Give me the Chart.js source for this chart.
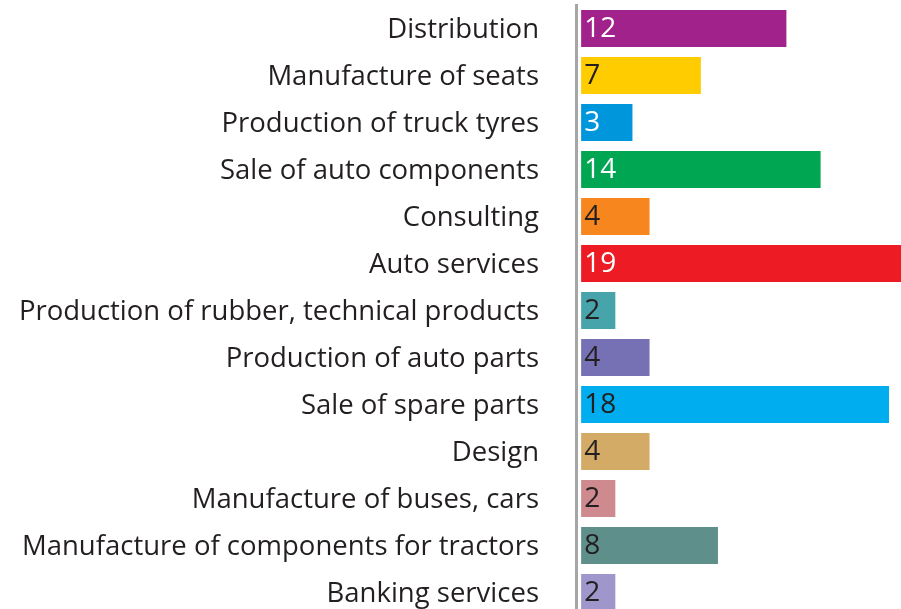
<!DOCTYPE html>
<html>
<head>
<meta charset="utf-8">
<script src="https://cdn.jsdelivr.net/npm/chart.js@4.4.1/dist/chart.umd.min.js"></script>
<style>
  html, body { margin: 0; padding: 0; background: #fff; overflow: hidden; }
  #wrap { position: relative; width: 901px; height: 616px; }
</style>
</head>
<body>
<div id="wrap"><canvas id="chart"></canvas></div>
<script>
const CATEGORIES = [
  'Distribution', 'Manufacture of seats', 'Production of truck tyres',
  'Sale of auto components', 'Consulting', 'Auto services',
  'Production of rubber, technical products', 'Production of auto parts',
  'Sale of spare parts', 'Design', 'Manufacture of buses, cars',
  'Manufacture of components for tractors', 'Banking services'
];
const VALUES = [12, 7, 3, 14, 4, 19, 2, 4, 18, 4, 2, 8, 2];
const BAR_COLORS = [
  '#a1228b', '#ffcc00', '#0096db', '#00a651', '#f7861f', '#ed1c24',
  '#48a4ab', '#7671b4', '#00aeef', '#d3ab67', '#ce8a8e', '#5f8f8b', '#9f97cb'
];
const LABEL_COLORS = [
  '#ffffff', '#231f20', '#ffffff', '#ffffff', '#231f20', '#ffffff',
  '#231f20', '#231f20', '#231f20', '#231f20', '#231f20', '#231f20', '#231f20'
];

const FONT = "'Open Sans', sans-serif";

// value labels drawn just inside the start of each bar
const valueLabels = {
  id: 'valueLabels',
  afterDatasetsDraw(chart) {
    const ctx = chart.ctx;
    const meta = chart.getDatasetMeta(0);
    ctx.save();
    ctx.font = '28px ' + FONT;
    ctx.textAlign = 'left';
    ctx.textBaseline = 'middle';
    meta.data.forEach((bar, i) => {
      ctx.fillStyle = LABEL_COLORS[i];
      ctx.fillText(String(VALUES[i]), bar.base + 3, bar.y + 1);
    });
    ctx.restore();
  }
};

new Chart(document.getElementById('chart').getContext('2d'), {
  type: 'bar',
  data: {
    labels: CATEGORIES,
    datasets: [{
      data: VALUES,
      backgroundColor: BAR_COLORS,
      borderWidth: 0,
      barPercentage: 0.787,
      categoryPercentage: 1.0
    }]
  },
  options: {
    indexAxis: 'y',
    responsive: true,
    maintainAspectRatio: false,
    animation: false,
    layout: { padding: { top: 5, right: 0, bottom: 0, left: 0 } },
    plugins: { legend: { display: false }, tooltip: { enabled: false } },
    scales: {
      x: { display: false, min: -0.3, max: 18.7 },
      y: {
        afterFit(scale) {
          // fixed label column, and no extra top/bottom padding from tick padding
          scale.width = 576;
          scale.paddingTop = 0;
          scale.paddingBottom = 0;
        },
        grid: { display: false, drawTicks: false },
        border: { display: true, color: '#a6a6a6', width: 3 },
        ticks: { color: '#231f20', padding: 37, labelOffset: 2, font: { family: FONT, size: 27.5 } }
      }
    }
  },
  plugins: [valueLabels]
});
</script>
</body>
</html>
